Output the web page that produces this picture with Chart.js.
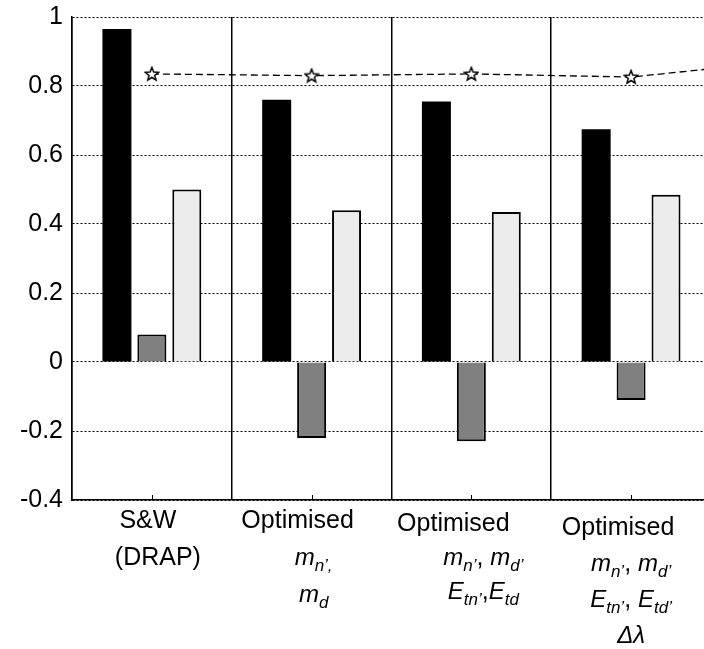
<!DOCTYPE html>
<html>
<head>
<meta charset="utf-8">
<script src="https://cdn.jsdelivr.net/npm/chart.js@4"></script>
<style>
  html, body { margin: 0; padding: 0; background: #fff; overflow: hidden; }
  #wrap { width: 880px; height: 649px; }
</style>
</head>
<body>
<div id="wrap"><canvas id="barChart" width="880" height="649"></canvas></div>
<script>
// data (5th slot only carries the line running off the right edge)
const categories = ["S&W (DRAP)", "Optimised m_n, m_d", "Optimised m_n, m_d, E_tn, E_td", "Optimised m_n, m_d, E_tn, E_td, Δλ", ""];
const blackValues = [0.965, 0.76, 0.755, 0.675, null];
const greyValues = [0.08, -0.22, -0.23, -0.11, null];
const lightValues = [0.5, 0.44, 0.435, 0.485, null];
const starValues = [0.835, 0.83, 0.835, 0.826, 0.874];
const yTicks = [-0.4, -0.2, 0, 0.2, 0.4, 0.6, 0.8, 1];

// label text, split in runs: n = normal, i = italic, s = italic subscript
const labelLines = [
  [[["S&W", "n"]], [["(DRAP)", "n"]]],
  [[["Optimised", "n"]], [["m", "i"], ["n’,", "s"]], [["m", "i"], ["d", "s"]]],
  [[["Optimised", "n"]], [["m", "i"], ["n’", "s"], [", ", "n"], ["m", "i"], ["d’", "s"]], [["E", "i"], ["tn’", "s"], [",", "n"], ["E", "i"], ["td", "s"]]],
  [[["Optimised", "n"]], [["m", "i"], ["n’", "s"], [", ", "n"], ["m", "i"], ["d’", "s"]], [["E", "i"], ["tn’", "s"], [", ", "n"], ["E", "i"], ["td’", "s"]], [["Δλ", "i"]]],
  [],
];

// label layout (offsets from chart bottom / tick centre)
const labelTop = [21, 21, 24, 28];
const labelStep = [37, 37, 34, 36];
const firstDx = [-4, -14, -18, -13];
const restDx = [6, 2, 12, 0];

function runFont(style) {
  if (style === "i") return "italic 24px 'Liberation Sans', Arial, sans-serif";
  if (style === "s") return "italic 17px 'Liberation Sans', Arial, sans-serif";
  return "25px 'Liberation Sans', Arial, sans-serif";
}

// outlined five point star for the markers
const star = document.createElement("canvas");
star.width = 16;
star.height = 16;
(function () {
  const c = star.getContext("2d");
  c.beginPath();
  for (let k = 0; k < 10; k++) {
    const r = k % 2 === 0 ? 7 : 3;
    const a = -Math.PI / 2 + (k * Math.PI) / 5;
    const px = 8 + r * Math.cos(a);
    const py = 8.5 + r * Math.sin(a);
    if (k === 0) c.moveTo(px, py);
    else c.lineTo(px, py);
  }
  c.closePath();
  c.fillStyle = "#fff";
  c.fill();
  c.lineWidth = 1.5;
  c.strokeStyle = "#000";
  c.stroke();
})();

const labelPlugin = {
  id: "groupLabels",
  afterDraw(chart) {
    const ctx = chart.ctx;
    const xs = chart.scales.x;
    const bottom = chart.chartArea.bottom;
    ctx.save();
    // small ticks at group centres
    ctx.strokeStyle = "#000";
    ctx.lineWidth = 1;
    for (let i = 0; i < 4; i++) {
      const x = Math.round(xs.getPixelForValue(i)) + 0.5;
      ctx.beginPath();
      ctx.moveTo(x, bottom);
      ctx.lineTo(x, bottom - 5);
      ctx.stroke();
    }
    ctx.fillStyle = "#000";
    ctx.textBaseline = "middle";
    ctx.textAlign = "left";
    labelLines.forEach((lines, i) => {
      const cx = xs.getPixelForValue(i);
      lines.forEach((runs, j) => {
        const y = bottom + labelTop[i] + j * labelStep[i];
        let w = 0;
        runs.forEach((r) => {
          ctx.font = runFont(r[1]);
          w += ctx.measureText(r[0]).width;
        });
        let px = cx + (j === 0 ? firstDx[i] : restDx[i]) - w / 2;
        runs.forEach((r) => {
          ctx.font = runFont(r[1]);
          ctx.fillText(r[0], px, y + (r[1] === "s" ? 8 : 0));
          px += ctx.measureText(r[0]).width;
        });
      });
    });
    ctx.restore();
  },
};

const barCtx = document.getElementById("barChart").getContext("2d");
const barChart = new Chart(barCtx, {
  type: "bar",
  data: {
    labels: categories,
    datasets: [
      {
        type: "line",
        data: starValues,
        borderColor: "#000",
        borderWidth: 1.3,
        borderDash: [7, 4],
        pointStyle: star,
        pointRadius: 8,
        tension: 0,
        order: 0,
      },
      {
        data: blackValues,
        backgroundColor: "#000",
        borderColor: "#000",
        borderWidth: 0,
        barPercentage: 0.83,
        categoryPercentage: 0.656,
        order: 1,
      },
      {
        data: greyValues,
        backgroundColor: "#808080",
        borderColor: "#000",
        borderWidth: 2,
        barPercentage: 0.83,
        categoryPercentage: 0.656,
        order: 1,
      },
      {
        data: lightValues,
        backgroundColor: "#ececec",
        borderColor: "#000",
        borderWidth: 2,
        barPercentage: 0.83,
        categoryPercentage: 0.656,
        order: 1,
      },
    ],
  },
  options: {
    responsive: false,
    animation: false,
    layout: { padding: { top: 17, right: 8, left: 0, bottom: 0 } },
    plugins: { legend: { display: false }, tooltip: { enabled: false } },
    scales: {
      x: {
        offset: true,
        grid: { offset: true, color: "#000", lineWidth: 1.5, drawTicks: false },
        border: { color: "#000", width: 1.5 },
        ticks: { display: false },
        afterFit: (scale) => { scale.height = 149; },
      },
      y: {
        min: -0.4,
        max: 1,
        afterBuildTicks: (scale) => { scale.ticks = yTicks.map((v) => ({ value: v })); },
        grid: { color: "#000", lineWidth: 1, drawTicks: false },
        border: { color: "#000", width: 1.5, dash: [2, 2] },
        ticks: {
          padding: 9,
          color: "#000",
          font: { family: "'Liberation Sans', Arial, sans-serif", size: 25 },
          callback: (v) => String(Number(v.toFixed(1))),
        },
        afterFit: (scale) => {
          scale.width = 72;
          scale.paddingTop = 0;
          scale.paddingBottom = 0;
        },
      },
    },
  },
  plugins: [labelPlugin],
});
</script>
</body>
</html>
